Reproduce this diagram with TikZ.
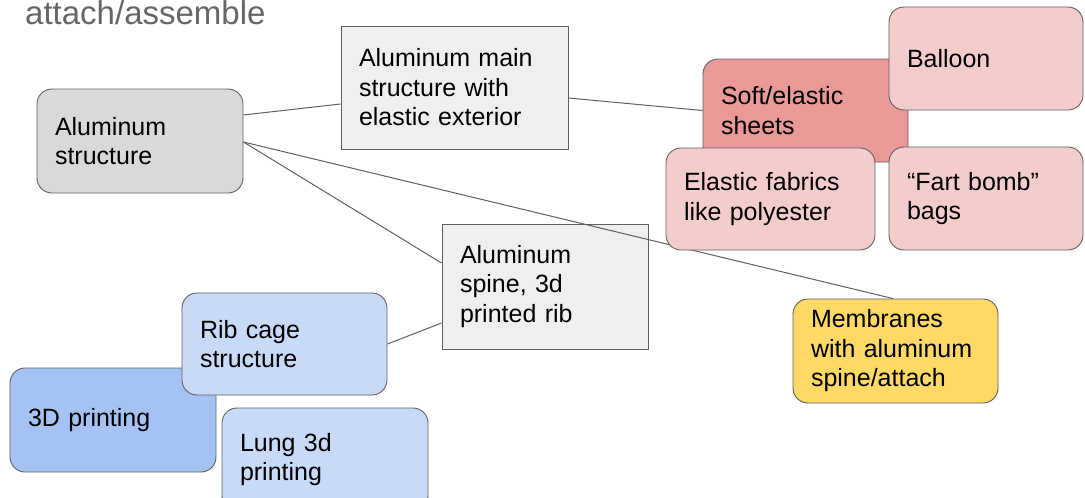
\documentclass[tikz,border=0pt]{standalone}
\usepackage{fontspec}
\setmainfont{Liberation Sans}
\usepackage{tikz}
\usetikzlibrary{calc,backgrounds}
\definecolor{Edge}{HTML}{5F5F5F}
\definecolor{Title}{HTML}{666666}
\definecolor{Metal}{HTML}{D9D9D9}
\definecolor{PaleGrey}{HTML}{EFEFEF}
\definecolor{Rose}{HTML}{EA9999}
\definecolor{PaleRose}{HTML}{F4CCCC}
\definecolor{Sky}{HTML}{A4C2F4}
\definecolor{PaleSky}{HTML}{C9DAF8}
\definecolor{Gold}{HTML}{FFD966}
\tikzset{
  idea/.style={rounded corners=15pt,draw=Edge,line width=0.9pt,minimum height=103pt,inner xsep=18pt,inner ysep=0pt,align=left,font=\fontsize{25}{29.5}\selectfont},
  plain/.style={idea,rounded corners=0pt},
  link/.style={draw=Edge,line width=1pt}
}
\begin{document}
\begin{tikzpicture}[x=1pt,y=-1pt]
  \useasboundingbox (0,0) rectangle (1085,498);
  \node[anchor=base west,inner sep=0pt,text=Title,font=\fontsize{33}{38}\selectfont] (title) at (25,24) {attach/assemble};

  \node[idea,fill=Rose,text width=169pt] (soft) at (805.5,110.5) {Soft/elastic\\sheets};
  \node[idea,fill=PaleRose,text width=158pt] (balloon) at (986,58.5) {Balloon};
  \node[idea,fill=PaleRose,text width=173pt,minimum height=102pt] (fabric) at (770.5,199) {Elastic fabrics\\like polyester};
  \node[idea,fill=PaleRose,text width=158pt] (fart) at (986,198.5) {“Fart bomb”\\bags};
  \node[idea,fill=Gold,text width=169pt,minimum height=104pt] (memb) at (895.5,351) {Membranes\\with aluminum\\spine/attach};

  \node[idea,fill=Sky,text width=170pt,minimum height=104pt] (print) at (113,420) {3D printing};
  \node[idea,fill=PaleSky,text width=169pt,minimum height=102pt] (rib) at (284.5,344) {Rib cage\\structure};
  \node[idea,fill=PaleSky,text width=170pt] (lung) at (325,459.5) {Lung 3d\\printing};

  % grey boxes and their links sit under the coloured ones
  \begin{pgfonlayer}{background}
    \node[idea,fill=Metal,text width=170pt,minimum height=104pt] (alum) at (140,141) {Aluminum\\structure};
    \node[plain,fill=PaleGrey,text width=191pt,minimum height=123pt] (main) at (454.5,87.5) {Aluminum main\\structure with\\elastic exterior};
    \node[plain,fill=PaleGrey,text width=170pt,minimum height=125pt] (spine) at (545,286.5) {Aluminum\\spine, 3d\\printed rib};

    \draw[link] ($(alum.east)+(0,-26)$) -- ($(main.west)+(0,16.5)$);
    \draw[link] ($(main.east)+(0,10.5)$) -- (soft.west);
    \draw[link] ($(alum.east)+(0,1)$) -- ($(spine.west)+(0,-23.5)$);
    \draw[link] ($(alum.east)+(0,1)$) -- ($(memb.north)+(-2.5,0)$);
    \draw[link] ($(spine.west)+(0,36.5)$) -- (rib.east);
  \end{pgfonlayer}
\end{tikzpicture}
\end{document}
